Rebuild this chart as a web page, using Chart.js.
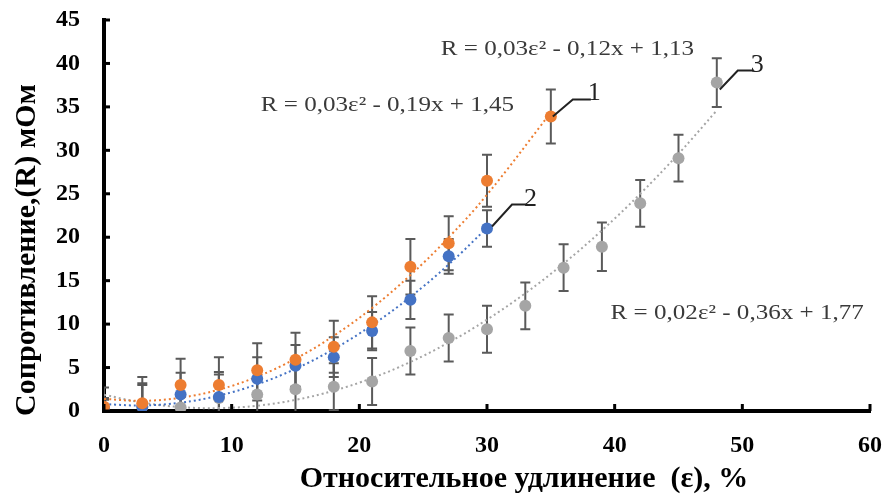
<!DOCTYPE html>
<html>
<head>
<meta charset="utf-8">
<script src="https://cdn.jsdelivr.net/npm/chart.js@4/dist/chart.umd.min.js"></script>
<style>
  html,body{margin:0;padding:0;background:#fff;}
  #wrap{width:885px;height:497px;position:relative;}
</style>
</head>
<body>
<div id="wrap"><canvas id="c" width="885" height="497"></canvas></div>
<script>
// ---- data ----
const strain1 = [0, 3, 6, 9, 12, 15, 18, 21, 24, 27, 30, 35];
const resist1 = [0.5, 0.9, 3.0, 3.0, 4.7, 5.9, 7.4, 10.2, 16.6, 19.3, 26.5, 33.9];
const err1    = [1.0, 3.0, 3.0, 3.2, 3.1, 3.1, 3.0, 3.0, 3.2, 3.1, 3.0, 3.1];

const strain2 = [0, 3, 6, 9, 12, 15, 18, 21, 24, 27, 30];
const resist2 = [0.3, 0.5, 1.9, 1.6, 3.7, 5.2, 6.2, 9.2, 12.8, 17.8, 21.0];
const err2    = [1.0, 2.5, 2.5, 2.9, 2.5, 2.4, 2.3, 2.2, 2.2, 2.0, 2.1];

const strain3 = [0, 3, 6, 9, 12, 15, 18, 21, 24, 27, 30, 33, 36, 39, 42, 45, 48];
const resist3 = [0.2, 0.5, 0.4, 1.5, 1.9, 2.5, 2.8, 3.4, 6.9, 8.4, 9.4, 12.1, 16.5, 18.9, 23.9, 29.1, 37.8];
const err3    = [2.5, 2.7, 2.7, 2.7, 2.7, 2.7, 2.7, 2.7, 2.7, 2.7, 2.7, 2.7, 2.7, 2.8, 2.7, 2.7, 2.8];

const xTicks = [0, 10, 20, 30, 40, 50, 60];
const yTicks = [0, 5, 10, 15, 20, 25, 30, 35, 40, 45];

const eqTexts = ['R = 0,03ε² - 0,12x + 1,13', 'R = 0,03ε² - 0,19x + 1,45', 'R = 0,02ε² - 0,36x + 1,77'];
const seriesLabels = ['1', '2', '3'];
const xTitle = 'Относительное удлинение  (ε), %';
const yTitle = 'Сопротивление,(R) мОм';

// ---- helpers ----
function pts(xs, ys) { return xs.map((x, i) => ({x: x, y: ys[i]})); }
// least-squares quadratic trend (like a spreadsheet polynomial trendline), evaluated at the data x values
function quadFit(xs, ys) {
  let S = [0,0,0,0,0], T = [0,0,0];
  xs.forEach((x, i) => {
    for (let k = 0; k < 5; k++) S[k] += Math.pow(x, k);
    for (let k = 0; k < 3; k++) T[k] += ys[i] * Math.pow(x, k);
  });
  const A = [[S[0],S[1],S[2],T[0]],[S[1],S[2],S[3],T[1]],[S[2],S[3],S[4],T[2]]];
  for (let i = 0; i < 3; i++) {
    for (let j = i + 1; j < 3; j++) {
      const f = A[j][i] / A[i][i];
      for (let k = i; k < 4; k++) A[j][k] -= f * A[i][k];
    }
  }
  const c = [0,0,0];
  for (let i = 2; i >= 0; i--) {
    let s = A[i][3];
    for (let k = i + 1; k < 3; k++) s -= A[i][k] * c[k];
    c[i] = s / A[i][i];
  }
  return xs.map(x => ({x: x, y: c[0] + c[1]*x + c[2]*x*x}));
}

const ORANGE = '#ED7D31', BLUE = '#4472C4', GRAY = '#A5A5A5';
const SERIF = "'Liberation Serif', 'DejaVu Serif', serif";

const errorSets = [
  {xs: strain1, ys: resist1, es: err1},
  {xs: strain2, ys: resist2, es: err2},
  {xs: strain3, ys: resist3, es: err3}
];

const extrasPlugin = {
  id: 'extras',
  beforeDatasetsDraw(chart) {
    const {ctx, scales: {x, y}, chartArea: a} = chart;
    ctx.save();
    ctx.beginPath();
    ctx.rect(a.left, a.top - 10, a.right - a.left, a.bottom - a.top + 10);
    ctx.clip();
    ctx.strokeStyle = '#5a5a5a';
    ctx.lineWidth = 2;
    errorSets.forEach(s => {
      s.xs.forEach((xv, i) => {
        const px = x.getPixelForValue(xv);
        const top = y.getPixelForValue(s.ys[i] + s.es[i]);
        const bot = y.getPixelForValue(s.ys[i] - s.es[i]);
        ctx.beginPath();
        ctx.moveTo(px, top); ctx.lineTo(px, bot);
        ctx.moveTo(px - 5, top); ctx.lineTo(px + 5, top);
        ctx.moveTo(px - 5, bot); ctx.lineTo(px + 5, bot);
        ctx.stroke();
      });
    });
    ctx.restore();
  },
  afterDraw(chart) {
    const {ctx, scales: {x, y}, chartArea: a} = chart;
    ctx.save();
    // inner tick marks
    ctx.strokeStyle = '#000';
    ctx.lineWidth = 3;
    yTicks.forEach(v => {
      const py = y.getPixelForValue(v);
      ctx.beginPath(); ctx.moveTo(a.left, py); ctx.lineTo(a.left + 6, py); ctx.stroke();
    });
    xTicks.forEach(v => {
      const px = x.getPixelForValue(v);
      ctx.beginPath(); ctx.moveTo(px, a.bottom); ctx.lineTo(px, a.bottom - 7); ctx.stroke();
    });
    // equations
    ctx.fillStyle = '#3a3a3a';
    ctx.font = '22px ' + SERIF;
    ctx.textAlign = 'center';
    ctx.textBaseline = 'middle';
    const eqPos = [[36.3, 41.6], [22.2, 35.2], [49.6, 11.3]];
    eqPos.forEach((p, i) => {
      ctx.save();
      ctx.translate(x.getPixelForValue(p[0]), y.getPixelForValue(p[1]));
      ctx.scale(1.14, 1);
      ctx.fillText(eqTexts[i], 0, 0);
      ctx.restore();
    });
    // leader lines + series numbers
    const leaders = [
      {xv: strain1[strain1.length-1], yv: resist1[resist1.length-1], sx: 2, sy: 0, bx: 22, by: -17, ex: 40},
      {xv: strain2[strain2.length-1], yv: resist2[resist2.length-1], sx: 5, sy: -2, bx: 25, by: -24, ex: 40},
      {xv: strain3[strain3.length-1], yv: resist3[resist3.length-1], sx: 3, sy: 7, bx: 21, by: -12, ex: 37}
    ];
    ctx.strokeStyle = '#222';
    ctx.lineWidth = 2;
    ctx.fillStyle = '#222';
    ctx.font = '26px ' + SERIF;
    ctx.textAlign = 'left';
    ctx.textBaseline = 'alphabetic';
    leaders.forEach((L, i) => {
      const px = x.getPixelForValue(L.xv), py = y.getPixelForValue(L.yv);
      ctx.beginPath();
      ctx.moveTo(px + L.sx, py + L.sy);
      ctx.lineTo(px + L.bx, py + L.by);
      ctx.lineTo(px + L.ex, py + L.by);
      ctx.stroke();
      ctx.fillText(seriesLabels[i], px + L.ex - 3, py + L.by + 1);
    });
    // axis titles
    ctx.fillStyle = '#000';
    ctx.font = 'bold 30px ' + SERIF;
    ctx.textAlign = 'center';
    ctx.textBaseline = 'middle';
    ctx.fillText(xTitle, 524, 479);
    ctx.translate(27, 250);
    ctx.rotate(-Math.PI / 2);
    ctx.fillText(yTitle, 0, 0);
    ctx.restore();
  }
};

new Chart(document.getElementById('c'), {
  type: 'scatter',
  data: {
    datasets: [
      {label: '1', data: pts(strain1, resist1), backgroundColor: ORANGE, borderColor: ORANGE, pointRadius: 6, pointBorderWidth: 0, order: 1},
      {label: '2', data: pts(strain2, resist2), backgroundColor: BLUE, borderColor: BLUE, pointRadius: 6, pointBorderWidth: 0, order: 1},
      {label: '3', data: pts(strain3, resist3), backgroundColor: GRAY, borderColor: GRAY, pointRadius: 6, pointBorderWidth: 0, order: 1},
      {label: 'trend 1', data: quadFit(strain1, resist1), showLine: true, borderColor: ORANGE, borderWidth: 2, borderDash: [2, 3], pointRadius: 0, tension: 0.4, order: 2},
      {label: 'trend 2', data: quadFit(strain2, resist2), showLine: true, borderColor: BLUE, borderWidth: 2, borderDash: [2, 3], pointRadius: 0, tension: 0.4, order: 2},
      {label: 'trend 3', data: quadFit(strain3, resist3), showLine: true, borderColor: GRAY, borderWidth: 2, borderDash: [2, 3], pointRadius: 0, tension: 0.4, order: 2}
    ]
  },
  options: {
    responsive: false,
    animation: false,
    layout: {autoPadding: false, padding: {top: 20, right: 15, left: 0, bottom: 0}},
    plugins: {legend: {display: false}, tooltip: {enabled: false}},
    scales: {
      x: {
        type: 'linear', min: 0, max: 60,
        afterBuildTicks: s => { s.ticks = xTicks.map(v => ({value: v})); },
        afterFit: s => { s.height = 86; s.paddingLeft = 0; s.paddingRight = 0; },
        grid: {display: false, drawTicks: false},
        border: {color: '#000', width: 4},
        ticks: {padding: 20, color: '#000', font: {family: SERIF, size: 24, weight: 'bold'}, maxRotation: 0}
      },
      y: {
        type: 'linear', min: 0, max: 45,
        afterBuildTicks: s => { s.ticks = yTicks.map(v => ({value: v})); },
        afterFit: s => { s.width = 104; s.paddingTop = 0; s.paddingBottom = 0; },
        grid: {display: false, drawTicks: false},
        border: {color: '#000', width: 4},
        ticks: {padding: 24, color: '#000', font: {family: SERIF, size: 24, weight: 'bold'}}
      }
    }
  },
  plugins: [extrasPlugin]
});
</script>
</body>
</html>
